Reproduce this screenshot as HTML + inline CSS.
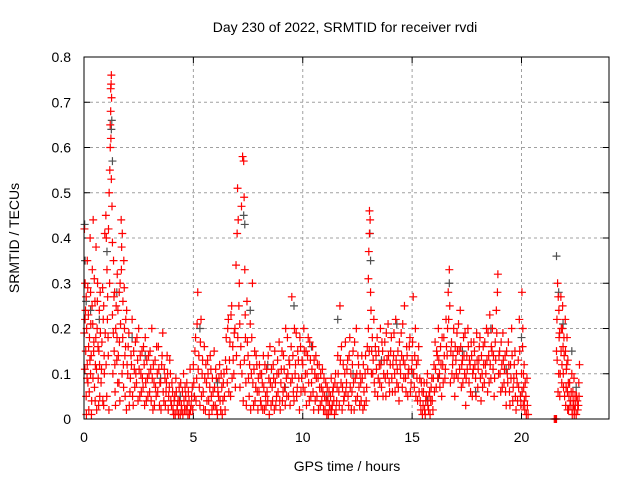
<!DOCTYPE html>
<html><head><meta charset="utf-8"><style>
html,body{margin:0;padding:0;background:#fff;}
svg{display:block;font-family:"Liberation Sans",sans-serif;}
</style></head><body>
<svg id="chart" width="640" height="480" viewBox="0 0 640 480">
<rect width="640" height="480" fill="#fff"/>
<text x="345" y="32" font-size="14" text-anchor="middle" fill="#000">Day 230 of 2022, SRMTID for receiver rvdi</text>
<text x="347" y="471" font-size="14" text-anchor="middle" fill="#000">GPS time / hours</text>
<text transform="translate(19,238) rotate(-90)" font-size="14" text-anchor="middle" fill="#000">SRMTID / TECUs</text>
<g id="grid"></g>
<g id="ticks"></g>
<g id="gray"></g>
<g id="red"></g>
<rect x="84" y="57" width="525" height="362" fill="none" stroke="#000" stroke-width="1"/>
</svg>
<script>
const xTicks = [0, 5, 10, 15, 20];
const yTicks = [0, 0.1, 0.2, 0.3, 0.4, 0.5, 0.6, 0.7, 0.8];
const yTickLabels = ["0", "0.1", "0.2", "0.3", "0.4", "0.5", "0.6", "0.7", "0.8"];
const redPoints = [
[0.02,0.42],[0.05,0.3],[0.05,0.22],[0.08,0.15],[0.1,0.27],[0.1,0.05],[0.12,0.2],[0.15,0.12],[0.15,0.35],[0.18,0.08],[0.2,0.23],[0.22,0.02],[0.25,0.18],[0.28,0.4],[0.3,0.1],[0.3,0.28],[0.33,0.14],[0.35,0.04],[0.38,0.33],[0.4,0.21],[0.42,0.44],[0.45,0.17],[0.48,0.07],[0.5,0.26],[0.52,0.12],[0.55,0.38],[0.58,0.02],[0.6,0.2],[0.62,0.3],[0.65,0.09],[0.68,0.15],[0.7,0.24],[0.72,0.05],[0.75,0.19],[0.8,0.11],[0.85,0.29],[0.88,0.22],[0.9,0.03],[0.92,0.14],[0.95,0.41],
[1.0,0.45],[1.02,0.4],[1.05,0.33],[1.08,0.27],[1.1,0.18],[1.12,0.42],[1.15,0.5],[1.18,0.55],[1.2,0.6],[1.2,0.65],[1.22,0.68],[1.22,0.73],[1.24,0.74],[1.25,0.76],[1.26,0.71],[1.23,0.62],[1.25,0.53],[1.28,0.47],[1.3,0.39],[1.3,0.23],[1.32,0.1],[1.35,0.35],[1.38,0.15],[1.4,0.28],[1.42,0.06],[1.45,0.2],[1.5,0.13],[1.52,0.32],[1.55,0.24],[1.6,0.08],[1.62,0.17],[1.65,0.3],[1.7,0.44],[1.72,0.38],[1.75,0.41],[1.78,0.26],[1.8,0.12],[1.82,0.35],[1.85,0.2],[1.88,0.05],[1.9,0.16],[1.95,0.24],
[2.0,0.1],[2.05,0.19],[2.1,0.06],[2.15,0.14],[2.2,0.22],[2.25,0.03],[2.3,0.11],[2.35,0.17],[2.4,0.08],[2.45,0.13],[2.5,0.2],[2.55,0.05],[2.6,0.1],[2.65,0.15],[2.7,0.07],[2.75,0.12],[2.8,0.18],[2.85,0.04],[2.9,0.09],[2.95,0.14],[3.0,0.06],[3.05,0.11],[3.1,0.2],[3.15,0.02],[3.2,0.08],[3.25,0.13],[3.3,0.05],[3.35,0.1],[3.4,0.16],[3.45,0.03],[3.5,0.08],[3.55,0.12],[3.6,0.19],[3.65,0.04],[3.7,0.09],[3.75,0.06],[3.8,0.14],[3.85,0.02],[3.9,0.07],[3.95,0.1],
[4.0,0.03],[4.05,0.06],[4.1,0.01],[4.15,0.05],[4.2,0.09],[4.25,0.02],[4.3,0.04],[4.35,0.07],[4.4,0.01],[4.45,0.03],[4.5,0.06],[4.55,0.1],[4.6,0.02],[4.65,0.05],[4.7,0.08],[4.75,0.01],[4.8,0.04],[4.85,0.11],[4.9,0.03],[4.95,0.07],
[5.0,0.12],[5.05,0.05],[5.1,0.18],[5.15,0.09],[5.2,0.28],[5.25,0.14],[5.3,0.03],[5.35,0.22],[5.4,0.1],[5.45,0.06],[5.5,0.16],[5.55,0.02],[5.6,0.08],[5.65,0.13],[5.7,0.04],[5.75,0.07],[5.8,0.11],[5.85,0.02],[5.9,0.06],[5.95,0.15],[6.0,0.03],[6.05,0.09],[6.1,0.01],[6.15,0.05],[6.2,0.12],[6.25,0.02],[6.3,0.07],[6.35,0.04],[6.4,0.1],[6.45,0.02],
[6.5,0.18],[6.55,0.08],[6.6,0.22],[6.65,0.13],[6.7,0.05],[6.75,0.25],[6.8,0.16],[6.85,0.1],[6.9,0.2],[6.95,0.34],[7.0,0.41],[7.02,0.51],[7.05,0.44],[7.1,0.3],[7.12,0.21],[7.15,0.12],[7.2,0.47],[7.25,0.58],[7.3,0.57],[7.32,0.49],[7.35,0.33],[7.38,0.18],[7.4,0.08],[7.45,0.26],[7.5,0.14],[7.55,0.05],[7.6,0.21],[7.65,0.1],[7.7,0.3],[7.75,0.03],[7.8,0.15],[7.85,0.07],[7.9,0.12],[7.95,0.02],
[8.0,0.06],[8.05,0.1],[8.1,0.03],[8.15,0.08],[8.2,0.14],[8.25,0.02],[8.3,0.05],[8.35,0.11],[8.4,0.04],[8.45,0.09],[8.5,0.16],[8.55,0.03],[8.6,0.07],[8.65,0.12],[8.7,0.02],[8.75,0.08],[8.8,0.05],[8.85,0.13],[8.9,0.1],[8.95,0.04],[9.0,0.08],[9.05,0.15],[9.1,0.06],[9.15,0.11],[9.2,0.03],[9.25,0.09],[9.3,0.18],[9.35,0.05],[9.4,0.12],[9.45,0.08],[9.5,0.27],[9.55,0.14],[9.6,0.04],[9.65,0.1],[9.7,0.19],[9.75,0.07],[9.8,0.13],[9.85,0.02],[9.9,0.16],[9.95,0.09],
[10.0,0.12],[10.05,0.2],[10.1,0.06],[10.15,0.15],[10.2,0.1],[10.25,0.18],[10.3,0.04],[10.35,0.13],[10.4,0.08],[10.45,0.16],[10.5,0.02],[10.55,0.1],[10.6,0.14],[10.65,0.05],[10.7,0.09],[10.75,0.12],[10.8,0.03],[10.85,0.07],[10.9,0.11],[10.95,0.02],[11.0,0.05],[11.05,0.08],[11.1,0.01],[11.15,0.04],[11.2,0.06],[11.25,0.02],[11.3,0.09],[11.35,0.03],[11.4,0.07],[11.45,0.01],[11.5,0.1],[11.55,0.04],[11.6,0.14],[11.65,0.06],[11.7,0.25],[11.75,0.08],[11.8,0.02],[11.85,0.12],[11.9,0.05],[11.95,0.17],
[12.0,0.08],[12.05,0.13],[12.1,0.03],[12.15,0.18],[12.2,0.1],[12.25,0.06],[12.3,0.15],[12.35,0.02],[12.4,0.09],[12.45,0.2],[12.5,0.05],[12.55,0.12],[12.6,0.03],[12.65,0.08],[12.7,0.14],[12.75,0.02],[12.8,0.06],[12.85,0.1],[12.9,0.04],[12.95,0.16],[13.0,0.2],[13.0,0.31],[13.02,0.37],[13.05,0.41],[13.05,0.46],[13.08,0.44],[13.1,0.28],[13.12,0.24],[13.15,0.15],[13.2,0.1],[13.25,0.22],[13.3,0.06],[13.35,0.14],[13.4,0.18],[13.45,0.09],[13.5,0.12],[13.55,0.2],[13.6,0.07],[13.65,0.15],[13.7,0.1],[13.75,0.17],[13.8,0.05],[13.85,0.13],[13.9,0.21],[13.95,0.08],
[14.0,0.12],[14.05,0.18],[14.1,0.06],[14.15,0.14],[14.2,0.1],[14.25,0.22],[14.3,0.08],[14.35,0.15],[14.4,0.04],[14.45,0.12],[14.5,0.19],[14.55,0.07],[14.6,0.13],[14.65,0.25],[14.7,0.09],[14.75,0.16],[14.8,0.05],[14.85,0.11],[14.9,0.18],[14.95,0.08],[15.0,0.13],[15.05,0.27],[15.1,0.07],[15.15,0.2],[15.2,0.12],[15.25,0.04],[15.3,0.16],[15.35,0.09],[15.4,0.02],[15.45,0.06],
[15.5,0.03],[15.55,0.08],[15.6,0.01],[15.65,0.05],[15.7,0.1],[15.75,0.02],[15.8,0.06],[15.85,0.04],[15.9,0.09],[15.95,0.02],[16.0,0.12],[16.05,0.17],[16.1,0.07],[16.15,0.14],[16.2,0.2],[16.25,0.1],[16.3,0.16],[16.35,0.05],[16.4,0.12],[16.45,0.18],[16.5,0.09],[16.55,0.22],[16.6,0.14],[16.65,0.28],[16.7,0.33],[16.72,0.25],[16.75,0.08],[16.8,0.17],[16.85,0.12],[16.9,0.2],[16.95,0.05],
[17.0,0.13],[17.05,0.19],[17.1,0.09],[17.15,0.15],[17.2,0.24],[17.25,0.07],[17.3,0.13],[17.35,0.18],[17.4,0.1],[17.45,0.03],[17.5,0.14],[17.55,0.2],[17.6,0.08],[17.65,0.12],[17.7,0.17],[17.75,0.05],[17.8,0.11],[17.85,0.15],[17.9,0.09],[17.95,0.19],[18.0,0.07],[18.05,0.13],[18.1,0.18],[18.15,0.04],[18.2,0.1],[18.25,0.16],[18.3,0.08],[18.35,0.12],[18.4,0.2],[18.45,0.06],[18.5,0.14],[18.55,0.23],[18.6,0.09],[18.65,0.15],[18.7,0.11],[18.75,0.05],[18.8,0.17],[18.85,0.24],[18.9,0.28],[18.92,0.32],[18.95,0.1],
[19.0,0.15],[19.05,0.06],[19.1,0.12],[19.15,0.19],[19.2,0.08],[19.25,0.14],[19.3,0.03],[19.35,0.1],[19.4,0.17],[19.45,0.06],[19.5,0.12],[19.55,0.2],[19.6,0.04],[19.65,0.09],[19.7,0.15],[19.75,0.02],[19.8,0.08],[19.85,0.13],[19.9,0.22],[19.95,0.05],[20.0,0.1],[20.02,0.28],[20.05,0.16],[20.08,0.03],[20.1,0.07],[20.12,0.12],[20.15,0.02],[20.2,0.05],[20.25,0.09],[20.3,0.01],
[21.5,0.0],[21.55,0.0],[21.6,0.0],[21.6,0.15],[21.62,0.22],[21.65,0.3],[21.68,0.27],[21.7,0.1],[21.72,0.18],[21.75,0.05],[21.8,0.27],[21.82,0.2],[21.85,0.12],[21.88,0.25],[21.9,0.16],[21.92,0.07],[21.95,0.14],[22.0,0.22],[22.02,0.03],[22.05,0.11],[22.08,0.18],[22.1,0.06],[22.12,0.13],[22.15,0.02],[22.2,0.08],[22.25,0.04],[22.3,0.1],[22.32,0.01],[22.35,0.06],[22.38,0.03],[22.4,0.09],[22.42,0.02],[22.45,0.05],[22.5,0.01],[22.55,0.04],[22.6,0.03],[22.62,0.08],[22.65,0.12]
];
const redPoints2 = [
[0.01,0.19],[0.04,0.11],[0.07,0.24],[0.11,0.01],[0.14,0.09],[0.17,0.29],[0.21,0.16],[0.24,0.06],[0.27,0.13],[0.31,0.21],[0.34,0.01],[0.37,0.25],[0.41,0.09],[0.44,0.15],[0.47,0.31],[0.51,0.04],[0.54,0.18],[0.57,0.11],[0.61,0.26],[0.64,0.16],[0.67,0.03],[0.71,0.12],[0.74,0.28],[0.78,0.08],[0.82,0.17],[0.86,0.04],[0.9,0.25],[0.93,0.1],[0.97,0.19],
[1.01,0.12],[1.04,0.05],[1.07,0.22],[1.11,0.14],[1.14,0.02],[1.17,0.3],[1.34,0.19],[1.37,0.27],[1.41,0.12],[1.44,0.03],[1.47,0.25],[1.51,0.18],[1.54,0.08],[1.57,0.14],[1.61,0.28],[1.64,0.04],[1.67,0.21],[1.71,0.33],[1.74,0.1],[1.77,0.18],[1.81,0.07],[1.84,0.29],[1.87,0.14],[1.91,0.22],[1.94,0.02],[1.97,0.12],
[2.02,0.16],[2.07,0.03],[2.12,0.09],[2.17,0.12],[2.22,0.05],[2.27,0.15],[2.32,0.07],[2.37,0.1],[2.42,0.18],[2.47,0.04],[2.52,0.11],[2.57,0.14],[2.62,0.06],[2.67,0.09],[2.72,0.16],[2.77,0.03],[2.82,0.08],[2.87,0.13],[2.92,0.05],[2.97,0.1],[3.02,0.15],[3.07,0.04],[3.12,0.09],[3.17,0.12],[3.22,0.03],[3.27,0.07],[3.32,0.16],[3.37,0.06],[3.42,0.11],[3.47,0.08],[3.52,0.02],[3.57,0.14],[3.62,0.06],[3.67,0.11],[3.72,0.03],[3.77,0.08],[3.82,0.1],[3.87,0.05],[3.92,0.13],[3.97,0.04],
[4.02,0.08],[4.07,0.02],[4.12,0.04],[4.17,0.01],[4.22,0.06],[4.27,0.03],[4.32,0.01],[4.37,0.04],[4.42,0.08],[4.47,0.02],[4.52,0.01],[4.57,0.04],[4.62,0.07],[4.67,0.02],[4.72,0.03],[4.77,0.06],[4.82,0.01],[4.87,0.02],[4.92,0.05],[4.97,0.02],
[5.02,0.08],[5.07,0.15],[5.12,0.04],[5.17,0.21],[5.22,0.11],[5.27,0.07],[5.32,0.17],[5.37,0.05],[5.42,0.13],[5.47,0.02],[5.52,0.09],[5.57,0.12],[5.62,0.04],[5.67,0.1],[5.72,0.01],[5.77,0.14],[5.82,0.05],[5.87,0.09],[5.92,0.03],[5.97,0.07],[6.02,0.11],[6.07,0.02],[6.12,0.06],[6.17,0.09],[6.22,0.04],[6.27,0.1],[6.32,0.01],[6.37,0.08],[6.42,0.05],[6.47,0.13],
[6.52,0.11],[6.57,0.2],[6.62,0.06],[6.67,0.17],[6.72,0.23],[6.77,0.09],[6.82,0.13],[6.87,0.19],[6.92,0.07],[6.97,0.14],[7.03,0.18],[7.08,0.25],[7.13,0.07],[7.17,0.16],[7.22,0.1],[7.28,0.04],[7.33,0.13],[7.37,0.23],[7.42,0.03],[7.47,0.17],[7.52,0.09],[7.57,0.12],[7.62,0.02],[7.67,0.18],[7.72,0.08],[7.77,0.11],[7.82,0.04],[7.87,0.14],[7.92,0.06],[7.97,0.09],
[8.02,0.12],[8.07,0.04],[8.12,0.1],[8.17,0.02],[8.22,0.07],[8.27,0.12],[8.32,0.03],[8.37,0.06],[8.42,0.14],[8.47,0.01],[8.52,0.08],[8.57,0.11],[8.62,0.04],[8.67,0.09],[8.72,0.15],[8.77,0.03],[8.82,0.1],[8.87,0.06],[8.92,0.17],[8.97,0.02],[9.02,0.11],[9.07,0.04],[9.12,0.14],[9.17,0.07],[9.22,0.2],[9.27,0.05],[9.32,0.1],[9.37,0.13],[9.42,0.03],[9.47,0.16],[9.52,0.09],[9.57,0.06],[9.62,0.2],[9.67,0.12],[9.72,0.05],[9.77,0.15],[9.82,0.09],[9.87,0.18],[9.92,0.06],[9.97,0.13],
[10.02,0.07],[10.07,0.15],[10.12,0.1],[10.17,0.03],[10.22,0.14],[10.27,0.08],[10.32,0.17],[10.37,0.05],[10.42,0.11],[10.47,0.06],[10.52,0.13],[10.57,0.04],[10.62,0.09],[10.67,0.12],[10.72,0.02],[10.77,0.07],[10.82,0.1],[10.87,0.04],[10.92,0.06],[10.97,0.09],[11.02,0.02],[11.07,0.04],[11.12,0.07],[11.17,0.01],[11.22,0.03],[11.27,0.05],[11.32,0.02],[11.37,0.06],[11.42,0.04],[11.47,0.08],[11.52,0.02],[11.57,0.07],[11.62,0.1],[11.67,0.03],[11.72,0.13],[11.77,0.16],[11.82,0.07],[11.87,0.04],[11.92,0.1],[11.97,0.06],
[12.02,0.11],[12.07,0.05],[12.12,0.14],[12.17,0.07],[12.22,0.02],[12.27,0.12],[12.32,0.08],[12.37,0.17],[12.42,0.04],[12.47,0.1],[12.52,0.14],[12.57,0.07],[12.62,0.1],[12.67,0.04],[12.72,0.09],[12.77,0.12],[12.82,0.03],[12.87,0.14],[12.92,0.07],[12.97,0.11],[13.04,0.15],[13.14,0.1],[13.18,0.18],[13.22,0.13],[13.27,0.08],[13.32,0.16],[13.37,0.11],[13.42,0.05],[13.47,0.15],[13.52,0.08],[13.57,0.12],[13.62,0.17],[13.67,0.05],[13.72,0.13],[13.77,0.09],[13.82,0.19],[13.87,0.1],[13.92,0.14],[13.97,0.06],
[14.02,0.15],[14.07,0.09],[14.12,0.12],[14.17,0.19],[14.22,0.06],[14.27,0.13],[14.32,0.11],[14.37,0.07],[14.42,0.17],[14.47,0.1],[14.52,0.14],[14.57,0.21],[14.62,0.09],[14.67,0.12],[14.72,0.06],[14.77,0.14],[14.82,0.1],[14.87,0.16],[14.92,0.06],[14.97,0.11],[15.02,0.17],[15.07,0.1],[15.12,0.14],[15.17,0.05],[15.22,0.09],[15.27,0.13],[15.32,0.06],[15.37,0.04],[15.42,0.08],[15.47,0.01],
[15.52,0.06],[15.57,0.02],[15.62,0.04],[15.67,0.08],[15.72,0.03],[15.77,0.05],[15.82,0.01],[15.87,0.07],[15.92,0.04],[15.97,0.09],[16.02,0.06],[16.07,0.11],[16.12,0.15],[16.17,0.09],[16.22,0.13],[16.27,0.07],[16.32,0.12],[16.37,0.18],[16.42,0.08],[16.47,0.14],[16.52,0.11],[16.57,0.16],[16.62,0.2],[16.67,0.22],[16.77,0.15],[16.82,0.1],[16.87,0.14],[16.92,0.09],[16.97,0.16],
[17.02,0.1],[17.07,0.15],[17.12,0.21],[17.17,0.11],[17.22,0.16],[17.27,0.12],[17.32,0.08],[17.37,0.14],[17.42,0.19],[17.47,0.09],[17.52,0.11],[17.57,0.16],[17.62,0.13],[17.67,0.06],[17.72,0.14],[17.77,0.1],[17.82,0.17],[17.87,0.12],[17.92,0.05],[17.97,0.13],[18.02,0.11],[18.07,0.16],[18.12,0.09],[18.17,0.14],[18.22,0.07],[18.27,0.12],[18.32,0.17],[18.37,0.1],[18.42,0.13],[18.47,0.19],[18.52,0.08],[18.57,0.12],[18.62,0.16],[18.67,0.2],[18.72,0.14],[18.77,0.09],[18.82,0.13],[18.87,0.19],[18.97,0.14],
[19.02,0.1],[19.07,0.17],[19.12,0.07],[19.17,0.13],[19.22,0.11],[19.27,0.06],[19.32,0.15],[19.37,0.08],[19.42,0.12],[19.47,0.03],[19.52,0.09],[19.57,0.14],[19.62,0.07],[19.67,0.12],[19.72,0.05],[19.77,0.1],[19.82,0.04],[19.87,0.07],[19.92,0.15],[19.97,0.03],[20.03,0.06],[20.06,0.2],[20.09,0.1],[20.13,0.04],[20.17,0.08],[20.22,0.01],[20.27,0.03],
[21.63,0.13],[21.67,0.06],[21.71,0.24],[21.74,0.19],[21.77,0.1],[21.81,0.15],[21.84,0.08],[21.87,0.2],[21.91,0.1],[21.94,0.18],[21.97,0.05],[22.01,0.15],[22.04,0.07],[22.07,0.12],[22.11,0.02],[22.14,0.08],[22.17,0.05],[22.22,0.03],[22.27,0.06],[22.31,0.02],[22.36,0.04],[22.41,0.01],[22.46,0.03],[22.52,0.05],[22.57,0.02],[22.63,0.05]
];
const grayPoints = [
[0.03,0.43],[0.05,0.35],[0.1,0.26],[0.3,0.24],[0.7,0.22],[1.05,0.37],[1.25,0.64],[1.27,0.66],[1.3,0.57],[1.5,0.28],[2.2,0.18],[2.8,0.14],[3.5,0.09],[4.4,0.05],[5.3,0.2],[6.1,0.08],[7.3,0.45],[7.35,0.43],[7.6,0.24],[8.4,0.12],[9.2,0.07],[9.6,0.25],[10.4,0.16],[11.1,0.05],[11.6,0.22],[12.3,0.1],[13.07,0.41],[13.1,0.35],[13.6,0.13],[14.3,0.21],[15.0,0.1],[15.7,0.04],[16.2,0.09],[16.7,0.3],[17.3,0.15],[17.9,0.06],[18.6,0.2],[19.3,0.11],[20.0,0.18],[21.6,0.36],[21.7,0.28],[21.9,0.21],[22.3,0.15],[22.5,0.07]
];
const NS = "http://www.w3.org/2000/svg";
const X0 = 84, X1 = 609, Y0 = 419, Y1 = 57;
function xScale(t){ return X0 + (t / 24) * (X1 - X0); }
function yScale(v){ return Y0 - (v / 0.8) * (Y0 - Y1); }
function mk(tag, attrs, parent){ const e = document.createElementNS(NS, tag); for (const k in attrs) e.setAttribute(k, attrs[k]); parent.appendChild(e); return e; }
const grid = document.getElementById('grid'), ticks = document.getElementById('ticks');
xTicks.forEach(t => {
  const x = xScale(t);
  if (t > 0) {
    const g = mk('line', {x1:x, x2:x, y1:Y1, y2:Y0, stroke:'#a0a0a0', 'stroke-dasharray':'3,3'}, grid);
    
    
  }
  mk('line', {x1:x, x2:x, y1:Y0, y2:Y0-6, stroke:'#000'}, ticks);
  mk('line', {x1:x, x2:x, y1:Y1, y2:Y1+6, stroke:'#000'}, ticks);
  const l = mk('text', {x:x, y:Y0+23, 'font-size':14, 'text-anchor':'middle'}, ticks);
  l.textContent = String(t);
  
  
});
yTicks.forEach((v, i) => {
  const y = yScale(v);
  if (v > 0 && v < 0.8) {
    const g = mk('line', {x1:X0, x2:X1, y1:y, y2:y, stroke:'#a0a0a0', 'stroke-dasharray':'3,3'}, grid);
    
    
  }
  mk('line', {x1:X0, x2:X0+6, y1:y, y2:y, stroke:'#000'}, ticks);
  mk('line', {x1:X1, x2:X1-6, y1:y, y2:y, stroke:'#000'}, ticks);
  const l = mk('text', {x:X0-13, y:y+5, 'font-size':14, 'text-anchor':'end'}, ticks);
  l.textContent = yTickLabels[i];
  
  
});
function plus(parent, t, v, color, name){
  const x = xScale(t), y = Math.min(yScale(v), Y0);
  const p = mk('path', {d:`M${x-4},${y}h8M${x},${y-4}v8`, stroke:color, 'stroke-width':1.2, fill:'none'}, parent);
  
  
}
const grayG = document.getElementById('gray'), redG = document.getElementById('red');
grayPoints.forEach(p => plus(grayG, p[0], p[1], '#505050', 'gray-point'));
redPoints.forEach(p => plus(redG, p[0], p[1], '#ff0000', 'red-point'));
redPoints2.forEach(p => plus(redG, p[0], p[1], '#ff0000', 'red-point'));
</script>
</body></html>
